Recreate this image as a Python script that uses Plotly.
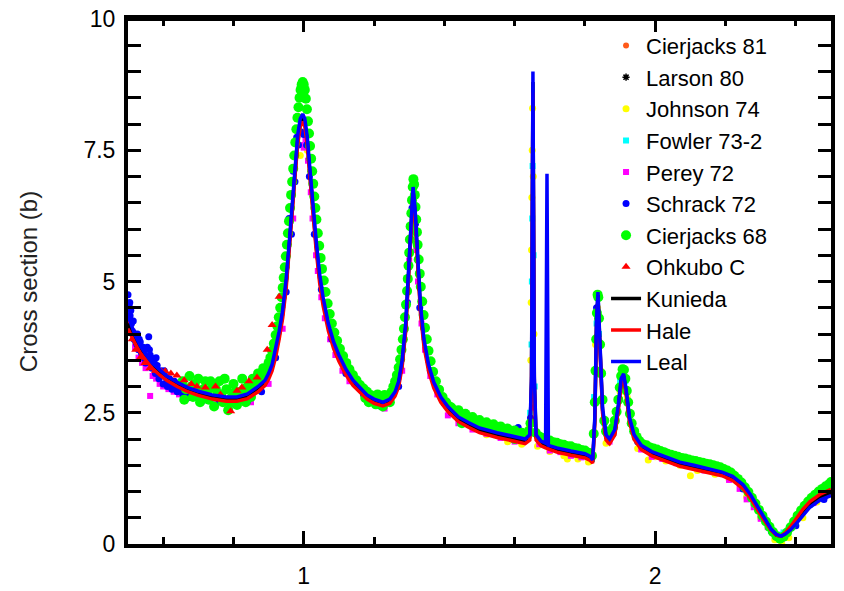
import plotly.graph_objects as go

# ---------------- evaluated curves (energy in MeV, cross section in b) ----------------
CURVE_E = [
    0.50, 0.51, 0.52, 0.535, 0.55, 0.57, 0.59, 0.61, 0.64, 0.67,
    0.70, 0.74, 0.78, 0.81, 0.84, 0.87, 0.89, 0.90, 0.91, 0.92,
    0.93, 0.94, 0.95, 0.96, 0.967, 0.975, 0.983, 0.990, 0.997, 1.003,
    1.010, 1.018, 1.026, 1.035, 1.045, 1.055, 1.07, 1.085, 1.10, 1.12,
    1.14, 1.16, 1.18, 1.20, 1.225, 1.245, 1.26, 1.27, 1.28, 1.29,
    1.298, 1.305, 1.311, 1.317, 1.324, 1.332, 1.342, 1.355, 1.37, 1.39,
    1.41, 1.44, 1.47, 1.50, 1.55, 1.60, 1.63, 1.643, 1.648, 1.652,
    1.656, 1.661, 1.675, 1.688, 1.692, 1.696, 1.72, 1.76, 1.80, 1.815,
    1.822, 1.828, 1.833, 1.837, 1.842, 1.850, 1.860, 1.870, 1.885, 1.895,
    1.903, 1.910, 1.917, 1.927, 1.94, 1.96, 1.99, 2.03, 2.07, 2.11,
    2.15, 2.19, 2.22, 2.25, 2.27, 2.29, 2.31, 2.33, 2.345, 2.358,
    2.37, 2.385, 2.40, 2.42, 2.44, 2.47, 2.50,
]

LEAL_XS = [
    4.35, 4.15, 3.98, 3.78, 3.62, 3.44, 3.31, 3.20, 3.08, 2.98,
    2.91, 2.84, 2.80, 2.80, 2.86, 3.00, 3.12, 3.25, 3.42, 3.70,
    4.05, 4.45, 5.05, 5.85, 6.50, 7.20, 7.80, 8.10, 8.19, 8.10,
    7.75, 7.10, 6.45, 5.80, 5.15, 4.70, 4.20, 3.85, 3.60, 3.33,
    3.12, 2.97, 2.84, 2.76, 2.70, 2.76, 2.90, 3.10, 3.50, 4.20,
    5.20, 6.20, 6.80, 6.35, 5.40, 4.55, 3.90, 3.42, 3.08, 2.80,
    2.62, 2.42, 2.31, 2.21, 2.12, 2.04, 2.00, 2.08, 3.20, 9.00,
    3.20, 2.08, 1.96, 1.92, 7.05, 1.88, 1.83, 1.77, 1.72, 1.67,
    1.60, 2.40, 4.30, 4.80, 3.90, 2.60, 2.08, 2.00, 2.18, 2.65,
    3.15, 3.24, 2.95, 2.40, 2.08, 1.88, 1.76, 1.66, 1.56, 1.50,
    1.44, 1.37, 1.29, 1.13, 0.95, 0.72, 0.49, 0.28, 0.18, 0.15,
    0.19, 0.27, 0.38, 0.54, 0.70, 0.84, 0.92,
]

HALE_XS = [
    4.10, 3.95, 3.82, 3.64, 3.50, 3.34, 3.22, 3.12, 3.00, 2.90,
    2.83, 2.76, 2.72, 2.72, 2.77, 2.90, 3.02, 3.14, 3.30, 3.56,
    3.90, 4.30, 4.88, 5.65, 6.30, 7.00, 7.62, 7.95, 8.04, 7.96,
    7.60, 6.95, 6.28, 5.62, 4.98, 4.54, 4.06, 3.72, 3.48, 3.22,
    3.02, 2.88, 2.76, 2.68, 2.63, 2.68, 2.82, 3.00, 3.38, 4.05,
    5.05, 6.05, 6.68, 6.20, 5.25, 4.40, 3.76, 3.30, 2.97, 2.70,
    2.52, 2.33, 2.22, 2.12, 2.03, 1.95, 1.91, 1.98, 3.00, 8.60,
    3.00, 1.98, 1.87, 1.83, 1.82, 1.80, 1.75, 1.69, 1.64, 1.59,
    1.54, 2.30, 4.15, 4.68, 3.80, 2.50, 1.98, 1.91, 2.08, 2.55,
    3.05, 3.16, 2.87, 2.32, 1.99, 1.80, 1.68, 1.58, 1.48, 1.42,
    1.36, 1.30, 1.21, 1.05, 0.88, 0.66, 0.45, 0.26, 0.17, 0.15,
    0.21, 0.33, 0.48, 0.66, 0.81, 0.95, 1.04,
]

KUNIEDA_XS = [
    4.20, 4.03, 3.88, 3.70, 3.55, 3.38, 3.26, 3.15, 3.03, 2.93,
    2.86, 2.79, 2.75, 2.75, 2.80, 2.94, 3.06, 3.19, 3.36, 3.63,
    3.97, 4.38, 4.96, 5.75, 6.40, 7.10, 7.71, 8.02, 8.11, 8.03,
    7.68, 7.02, 6.36, 5.71, 5.06, 4.62, 4.13, 3.78, 3.54, 3.27,
    3.07, 2.92, 2.80, 2.72, 2.66, 2.72, 2.86, 3.05, 3.44, 4.12,
    5.12, 6.12, 6.74, 6.28, 5.32, 4.47, 3.83, 3.36, 3.02, 2.75,
    2.57, 2.38, 2.26, 2.17, 2.08, 1.99, 1.95, 2.03, 3.10, 8.80,
    3.10, 2.03, 1.91, 1.87, 1.86, 1.84, 1.79, 1.73, 1.68, 1.63,
    1.57, 2.35, 4.22, 4.74, 3.85, 2.55, 2.03, 1.95, 2.13, 2.60,
    3.10, 3.20, 2.91, 2.36, 2.03, 1.84, 1.72, 1.62, 1.52, 1.46,
    1.40, 1.34, 1.25, 1.09, 0.91, 0.69, 0.47, 0.27, 0.17, 0.15,
    0.20, 0.30, 0.43, 0.60, 0.75, 0.90, 0.98,
]

# ---------------- experimental data sets ----------------
CJ81_E = [1.50, 1.60, 1.70, 1.80, 1.90, 2.00, 2.10, 2.20, 2.30, 2.40, 2.50]
CJ81_XS = [2.22, 2.02, 1.86, 1.72, 3.00, 1.74, 1.52, 1.36, 0.58, 0.42, 0.98]

LARSON_E = [0.80, 0.90, 1.10, 1.20, 1.40, 1.60, 1.80, 2.00, 2.20, 2.40]
LARSON_XS = [2.85, 3.35, 3.62, 2.76, 2.68, 2.06, 1.74, 1.76, 1.38, 0.45]

JOHNSON_E = [
    0.99, 1.01, 1.32, 1.45, 1.52, 1.58, 1.62, 1.640, 1.646, 1.647,
    1.648, 1.649, 1.650, 1.651, 1.653, 1.655, 1.665, 1.70, 1.74, 1.75,
    1.78, 1.81, 1.83, 1.836, 1.845, 1.86, 1.90, 1.92, 1.95, 1.98,
    2.00, 2.03, 2.07, 2.10, 2.12, 2.17, 2.21, 2.26, 2.30, 2.34,
    2.36, 2.38, 2.42, 2.46,
]
JOHNSON_XS = [
    7.40, 7.50, 5.60, 2.30, 2.08, 1.95, 1.90, 2.20, 3.50, 4.60,
    5.60, 6.60, 7.50, 8.30, 7.00, 4.00, 1.86, 1.76, 1.68, 1.62,
    1.62, 1.56, 3.80, 4.50, 3.30, 1.92, 2.90, 2.80, 1.82, 1.60,
    1.66, 1.58, 1.50, 1.30, 1.40, 1.33, 1.24, 0.90, 0.50, 0.08,
    0.00, 0.12, 0.50, 0.80,
]

FOWLER_E = [
    1.55, 1.62, 1.644, 1.648, 1.649, 1.650, 1.651, 1.654, 1.657, 1.68,
    1.75, 1.82, 1.826, 1.833, 1.84, 1.855, 1.87, 1.90, 1.915, 1.93,
    2.00, 2.10, 2.20, 2.28, 2.33, 2.35, 2.365, 2.39, 2.44, 2.50,
]
FOWLER_XS = [
    2.10, 1.98, 2.50, 3.80, 5.00, 6.20, 7.20, 5.50, 3.00, 1.90,
    1.78, 1.62, 2.80, 4.20, 4.00, 2.30, 2.00, 3.10, 3.10, 2.30,
    1.72, 1.50, 1.32, 0.78, 0.25, 0.18, 0.22, 0.35, 0.75, 1.05,
]

PEREY_E = [
    0.500, 0.505, 0.512, 0.52, 0.53, 0.54, 0.55, 0.563, 0.57, 0.58,
    0.59, 0.60, 0.615, 0.63, 0.645, 0.66, 0.68, 0.71, 0.75, 0.80,
    0.85, 0.90, 0.94, 0.97, 0.99, 1.00, 1.012, 1.025, 1.04, 1.06,
    1.09, 1.13, 1.18, 1.23, 1.28, 1.30, 1.312, 1.325, 1.345, 1.38,
    1.44, 1.52, 1.60, 1.65, 1.67, 1.73, 1.79, 1.836, 1.87, 1.91,
    1.96, 2.02, 2.10, 2.18, 2.24, 2.28, 2.32, 2.36, 2.40, 2.45,
    1.005, 1.02, 1.035, 1.05, 1.075, 1.11, 1.32, 1.335, 1.36, 1.41,
    1.48, 1.56, 1.70, 1.76, 1.99, 2.06, 2.14, 2.21, 2.26, 2.30,
]
PEREY_XS = [
    4.55, 4.30, 4.05, 3.75, 3.55, 3.45, 3.35, 2.82, 3.20, 3.15,
    3.05, 3.00, 2.95, 2.90, 2.85, 2.80, 2.78, 2.72, 2.68, 2.65,
    2.70, 3.05, 4.10, 6.20, 7.60, 7.55, 7.30, 6.20, 5.20, 4.30,
    3.60, 3.10, 2.72, 2.58, 3.30, 5.40, 6.50, 5.00, 3.70, 2.85,
    2.30, 2.10, 1.95, 2.60, 1.90, 1.75, 1.65, 4.40, 1.95, 3.05,
    1.80, 1.62, 1.48, 1.35, 1.05, 0.70, 0.32, 0.10, 0.40, 0.78,
    7.70, 6.70, 5.50, 4.70, 3.90, 3.30, 5.60, 4.20, 3.20, 2.45,
    2.18, 2.02, 1.78, 1.68, 1.66, 1.54, 1.40, 1.22, 0.85, 0.48,
]

SCHRACK_E = [
    0.500, 0.503, 0.506, 0.510, 0.513, 0.517, 0.520, 0.525, 0.530, 0.535,
    0.540, 0.545, 0.550, 0.555, 0.559, 0.563, 0.568, 0.572, 0.578, 0.583,
    0.588, 0.594, 0.600, 0.606, 0.612, 0.618, 0.625, 0.632, 0.640, 0.648,
    0.656, 0.665, 0.675, 0.69, 0.72, 0.76, 0.80, 0.84, 0.88, 0.92,
    0.95, 0.965, 0.975, 0.985, 0.993, 1.000, 1.008, 1.016, 1.03, 1.05,
    1.08, 1.12, 1.17, 1.22, 1.27, 1.295, 1.308, 1.318, 1.33, 1.36,
    1.42, 1.50, 1.58, 1.61, 1.63, 1.645, 1.70, 1.77, 1.833, 1.88,
    1.907, 1.95, 2.05, 2.15, 2.25, 2.33, 2.40, 2.48,
    0.505, 0.508, 0.515, 0.522, 0.527, 0.532, 0.538, 0.543, 0.548, 0.553,
    0.561, 0.566, 0.575, 0.580, 0.586, 0.590, 0.597, 0.603, 0.610, 0.615,
    0.620, 0.628, 0.635, 0.643, 0.650, 0.660, 0.670, 0.958, 0.970, 0.980,
]
SCHRACK_XS = [
    4.75, 4.55, 4.35, 4.20, 4.05, 3.90, 4.00, 3.80, 3.70, 3.85,
    3.60, 3.55, 3.45, 3.75, 3.95, 3.60, 3.35, 3.50, 3.25, 3.40,
    3.15, 3.30, 3.05, 3.20, 3.00, 3.15, 2.95, 3.10, 2.90, 3.05,
    2.85, 2.95, 2.80, 2.90, 2.75, 2.72, 2.70, 2.72, 2.90, 3.55,
    4.80, 5.90, 6.90, 7.60, 7.85, 7.80, 7.60, 7.00, 5.90, 4.85,
    3.90, 3.25, 2.85, 2.62, 3.00, 4.60, 6.40, 6.10, 4.50, 3.30,
    2.50, 2.20, 2.05, 2.22, 2.10, 2.40, 1.85, 1.72, 4.50, 2.10,
    3.15, 1.95, 1.62, 1.42, 1.05, 0.25, 0.35, 0.85,
    4.60, 4.45, 4.25, 3.85, 4.00, 3.90, 3.65, 3.75, 3.70, 3.50,
    3.70, 3.55, 3.45, 3.55, 3.30, 3.25, 3.20, 3.30, 3.15, 3.05,
    3.10, 3.05, 3.00, 3.05, 2.95, 3.00, 2.90, 6.20, 7.10, 7.75,
]

CJ68_E = [
    # low-energy region
    0.655, 0.665, 0.675, 0.685, 0.69, 0.70, 0.705, 0.715, 0.72, 0.73,
    0.74, 0.745, 0.755, 0.76, 0.77, 0.78, 0.785, 0.795, 0.80, 0.81,
    0.82, 0.825, 0.835, 0.84, 0.85, 0.855, 0.865, 0.87, 0.88, 0.885,
    0.66, 0.68, 0.695, 0.71, 0.725, 0.735, 0.75, 0.765, 0.775, 0.79,
    0.805, 0.815, 0.83, 0.845, 0.86, 0.875, 0.89,
    # 1.0 MeV resonance
    0.895, 0.900, 0.905, 0.910, 0.915, 0.920, 0.925, 0.929, 0.933, 0.937,
    0.940, 0.943, 0.946, 0.949, 0.952, 0.955, 0.958, 0.961, 0.964, 0.967,
    0.970, 0.973, 0.976, 0.979, 0.982, 0.985, 0.988, 0.991, 0.994, 0.997,
    1.000, 0.999, 1.003, 1.006, 1.009, 1.012, 1.015, 1.018, 1.021, 1.024,
    1.027, 1.030, 1.033, 1.036, 1.040, 1.044, 1.048, 1.052, 1.057, 1.062,
    1.068, 1.074, 1.080, 1.087, 1.095, 1.103, 1.112, 1.121, 1.130, 1.140,
    1.150, 1.160, 1.170, 1.180, 1.190, 1.200,
    1.175, 1.185, 1.195, 1.205, 1.215, 1.225, 1.235, 1.245, 1.210, 1.230,
    1.250,
    # 1.31 MeV resonance
    1.255, 1.260, 1.265, 1.270, 1.274, 1.278, 1.282, 1.285, 1.288, 1.291,
    1.294, 1.296, 1.298, 1.300, 1.302, 1.304, 1.306, 1.308, 1.310, 1.312,
    1.314, 1.316, 1.318, 1.320, 1.322, 1.324, 1.327, 1.330, 1.333, 1.337,
    1.341, 1.345, 1.350, 1.355, 1.361, 1.368, 1.376, 1.385, 1.395, 1.405,
    1.415,
    # 1.42 - 1.65 MeV
    1.42, 1.43, 1.44, 1.45, 1.46, 1.47, 1.48, 1.49, 1.50, 1.51,
    1.52, 1.53, 1.54, 1.55, 1.56, 1.57, 1.58, 1.59, 1.60, 1.61,
    1.62, 1.63, 1.64, 1.645, 1.45, 1.50, 1.55, 1.60,
    # 1.66 - 1.97 MeV
    1.66, 1.67, 1.68, 1.69, 1.70, 1.71, 1.72, 1.73, 1.74, 1.75,
    1.76, 1.77, 1.78, 1.79, 1.80, 1.81, 1.815, 1.82,
    1.825, 1.828, 1.830, 1.832, 1.834, 1.836, 1.838, 1.840, 1.843, 1.846,
    1.850, 1.855, 1.860, 1.865, 1.870, 1.875, 1.880, 1.885, 1.890, 1.895,
    1.899, 1.903, 1.907, 1.911, 1.915, 1.919, 1.923, 1.928, 1.933, 1.940,
    1.947, 1.955, 1.965,
    # 1.97 - 2.5 MeV
    1.975, 1.985, 1.995, 2.005, 2.015, 2.025, 2.035, 2.045, 2.055, 2.065,
    2.075, 2.085, 2.095, 2.105, 2.115, 2.125, 2.135, 2.145, 2.155, 2.165,
    2.175, 2.185, 2.195, 2.205, 2.215, 2.225, 2.235, 2.245, 2.255, 2.265,
    2.275, 2.285, 2.295, 2.305, 2.315, 2.325, 2.335, 2.345, 2.355, 2.365,
    2.375, 2.385, 2.395, 2.405, 2.415, 2.425, 2.435, 2.445, 2.455, 2.465,
    2.475, 2.485, 2.495, 2.500,
]
CJ68_XS = [
    # low-energy region
    3.10, 2.95, 3.20, 2.80, 3.05, 3.15, 2.70, 2.95, 3.10, 2.75,
    3.00, 2.62, 2.85, 3.10, 2.70, 2.95, 2.55, 2.80, 3.05, 2.65,
    2.90, 3.15, 2.70, 3.00, 2.80, 3.15, 2.95, 3.25, 3.05, 3.35,
    2.75, 3.00, 2.90, 2.80, 2.90, 3.10, 2.95, 2.85, 3.15, 2.70,
    2.90, 2.85, 2.95, 2.85, 3.05, 3.10, 3.20,
    # 1.0 MeV resonance
    3.30, 3.45, 3.55, 3.68, 3.82, 3.98, 4.15, 4.32, 4.50, 4.70,
    4.88, 5.07, 5.27, 5.48, 5.70, 5.92, 6.15, 6.40, 6.65, 6.90,
    7.15, 7.40, 7.65, 7.90, 8.12, 8.32, 8.50, 8.65, 8.75, 8.80,
    8.75, 8.55, 8.65, 8.48, 8.28, 8.05, 7.82, 7.58, 7.34, 7.10,
    6.86, 6.62, 6.40, 6.18, 5.92, 5.68, 5.45, 5.24, 5.02, 4.80,
    4.58, 4.38, 4.20, 4.03, 3.87, 3.72, 3.58, 3.45, 3.33, 3.22,
    3.12, 3.03, 2.96, 2.90, 2.84, 2.80,
    2.78, 2.70, 2.75, 2.66, 2.72, 2.62, 2.78, 2.70, 2.85, 2.84,
    2.90,
    # 1.31 MeV resonance
    3.00, 3.10, 3.22, 3.36, 3.52, 3.70, 3.90, 4.10, 4.32, 4.56,
    4.82, 5.05, 5.30, 5.55, 5.80, 6.05, 6.30, 6.55, 6.80, 6.95,
    6.85, 6.65, 6.42, 6.18, 5.94, 5.70, 5.42, 5.15, 4.90, 4.62,
    4.36, 4.12, 3.90, 3.68, 3.48, 3.28, 3.10, 2.94, 2.80, 2.70,
    2.62,
    # 1.42 - 1.65 MeV
    2.60, 2.52, 2.55, 2.45, 2.48, 2.40, 2.42, 2.33, 2.36, 2.28,
    2.32, 2.24, 2.28, 2.20, 2.24, 2.16, 2.20, 2.12, 2.16, 2.10,
    2.12, 2.08, 2.15, 2.30, 2.30, 2.20, 2.10, 2.00,
    # 1.66 - 1.97 MeV
    2.12, 2.05, 2.02, 1.98, 1.97, 1.94, 1.93, 1.90, 1.89, 1.86,
    1.86, 1.83, 1.82, 1.79, 1.78, 1.74, 1.72, 1.68,
    2.10, 2.70, 3.30, 3.90, 4.40, 4.75, 4.70, 4.30, 3.80, 3.25,
    2.75, 2.35, 2.15, 2.10, 2.08, 2.12, 2.22, 2.35, 2.52, 2.75,
    2.98, 3.20, 3.33, 3.32, 3.15, 2.92, 2.70, 2.48, 2.30, 2.15,
    2.04, 1.96, 1.90,
    # 1.97 - 2.5 MeV
    1.88, 1.84, 1.82, 1.80, 1.77, 1.75, 1.72, 1.70, 1.68, 1.66,
    1.64, 1.63, 1.61, 1.59, 1.58, 1.56, 1.55, 1.53, 1.52, 1.50,
    1.48, 1.46, 1.43, 1.40, 1.36, 1.30, 1.24, 1.17, 1.08, 0.99,
    0.88, 0.77, 0.65, 0.54, 0.43, 0.33, 0.23, 0.15, 0.10, 0.14,
    0.22, 0.32, 0.43, 0.54, 0.64, 0.73, 0.81, 0.88, 0.94, 1.00,
    1.05, 1.10, 1.14, 1.18,
]

OHKUBO_E = [
    0.502, 0.512, 0.522, 0.535, 0.548, 0.562, 0.578, 0.595, 0.606, 0.622,
    0.639, 0.66, 0.68, 0.696, 0.72, 0.749, 0.763, 0.792, 0.81, 0.824,
    0.844, 0.867, 0.896, 0.91, 0.93,
]
OHKUBO_XS = [
    4.20, 3.90, 3.70, 3.55, 3.45, 3.35, 3.30, 3.28, 3.29, 3.25,
    3.21, 3.12, 3.05, 3.00, 2.98, 3.00, 2.85, 2.53, 2.92, 2.98,
    3.10, 3.17, 3.70, 4.17, 4.71,
]

X_RANGE = [0.5, 2.5]
Y_RANGE = [0, 10]
Y_TICKS = [0, 2.5, 5, 7.5, 10]
Y_TICK_TEXT = ["0", "2.5", "5", "7.5", "10"]

FONT = "Liberation Sans, Arial, Helvetica, sans-serif"

fig = go.Figure()


def add_points(name, e, xs, color, symbol, size, line=None):
    marker = dict(color=color, symbol=symbol, size=size, line=dict(width=0))
    if line is not None:
        marker["line"] = line
    fig.add_trace(go.Scatter(x=e, y=xs, mode="markers", name=name, marker=marker))


add_points("Cierjacks 81", CJ81_E, CJ81_XS, "#ff5a1a", "circle", 6)
add_points("Larson 80", LARSON_E, LARSON_XS, "black", "asterisk", 6,
           line=dict(color="black", width=1.5))
add_points("Johnson 74", JOHNSON_E, JOHNSON_XS, "#ffff00", "circle", 7)
add_points("Fowler 73-2", FOWLER_E, FOWLER_XS, "#00ffff", "square", 6)
add_points("Perey 72", PEREY_E, PEREY_XS, "#ff00ff", "square", 6)
add_points("Schrack 72", SCHRACK_E, SCHRACK_XS, "#0000ff", "circle", 7)
add_points("Cierjacks 68", CJ68_E, CJ68_XS, "#00ff00", "circle", 10)
add_points("Ohkubo C", OHKUBO_E, OHKUBO_XS, "#ff0000", "triangle-up", 8)

fig.add_trace(go.Scatter(x=CURVE_E, y=KUNIEDA_XS, mode="lines", name="Kunieda",
                         line=dict(color="black", width=3.5)))
fig.add_trace(go.Scatter(x=CURVE_E, y=HALE_XS, mode="lines", name="Hale",
                         line=dict(color="#ff0000", width=3.5)))
# Leal is drawn on the top-side x axis (same range) so that it lies above all others
fig.add_trace(go.Scatter(x=CURVE_E, y=LEAL_XS, mode="lines", name="Leal",
                         xaxis="x2", yaxis="y",
                         line=dict(color="#0000ff", width=3.5)))

tick_common = dict(
    showline=True, linecolor="black", linewidth=4,
    ticks="inside", ticklen=13, tickwidth=2.5, tickcolor="black",
    showgrid=False, zeroline=False,
    ticklabeloverflow="allow",
    tickfont=dict(family=FONT, size=23, color="black"),
)
x_minor = dict(ticks="inside", dtick=0.2, tick0=0, ticklen=7,
               tickwidth=2.5, tickcolor="black", showgrid=False)

fig.update_layout(
    xaxis=dict(range=X_RANGE, tick0=0, dtick=1, minor=x_minor, mirror=False,
               ticklabelstandoff=8, automargin=False, **tick_common),
    xaxis2=dict(range=X_RANGE, tick0=0, dtick=1, minor=x_minor,
                overlaying="x", side="top", anchor="y", automargin=True,
                showticklabels=False, **tick_common),
    yaxis=dict(range=Y_RANGE, tickvals=Y_TICKS, ticktext=Y_TICK_TEXT,
               minor=dict(ticks="inside", dtick=0.5, tick0=0, ticklen=7,
                          tickwidth=2.5, tickcolor="black", showgrid=False),
               mirror="allticks", ticklabelstandoff=4, automargin=False,
               title=dict(text="Cross section (b)", standoff=40,
                          font=dict(family=FONT, size=24, color="#222")),
               **tick_common),
    width=844, height=591,
    margin=dict(l=128, r=13, t=19, b=47),
    plot_bgcolor="white", paper_bgcolor="white",
    font=dict(family=FONT, size=22, color="black"),
    legend=dict(x=0.680, xanchor="left", y=0.989, yanchor="top",
                bgcolor="rgba(0,0,0,0)", borderwidth=0,
                font=dict(family=FONT, size=22, color="black"),
                itemsizing="trace"),
    # top edge of the frame
    shapes=[dict(type="line", xref="paper", yref="paper", x0=0, x1=1, y0=1, y1=1,
                 line=dict(color="black", width=4), layer="above")],
)

# remove the browser's default page margin so the figure sits at the window origin
fig.write_html(
    "out.html",
    config={"displayModeBar": False},
    post_script="document.body.style.margin='0';document.body.style.overflow='hidden';",
)
